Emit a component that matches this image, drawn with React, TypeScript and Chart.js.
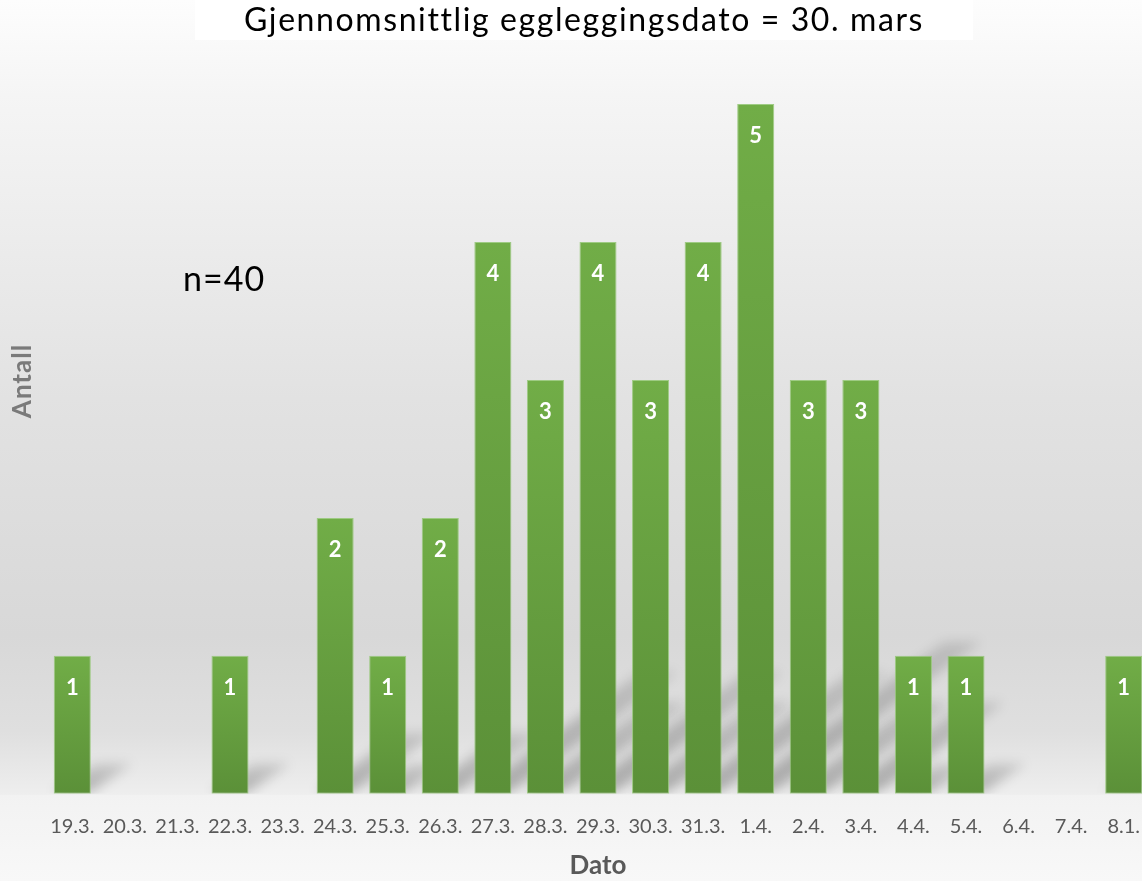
import React, { useEffect, useRef } from "react";
import { Chart, registerables } from "chart.js";

Chart.register(...registerables);

const TITLE = "Gjennomsnittlig eggleggingsdato = 30. mars";
const X_TITLE = "Dato";
const Y_TITLE = "Antall";
const NOTE = "n=40";

const dates = [
  "19.3.", "20.3.", "21.3.", "22.3.", "23.3.", "24.3.", "25.3.", "26.3.", "27.3.", "28.3.",
  "29.3.", "30.3.", "31.3.", "1.4.", "2.4.", "3.4.", "4.4.", "5.4.", "6.4.", "7.4.", "8.1.",
];
const counts: (number | null)[] = [
  1, null, null, 1, null, 2, 1, 2, 4, 3,
  4, 3, 4, 5, 3, 3, 1, 1, null, null, 1,
];
const yMin = 0;
const yMax = 5;

const FONT = "Lato, 'Open Sans', sans-serif";

const backgroundPlugin = {
  id: "bgPlugin",
  beforeDraw(chart: any) {
    const { ctx, width, height, chartArea } = chart;
    ctx.save();
    const gb = ctx.createLinearGradient(0, chartArea.bottom, 0, height);
    gb.addColorStop(0, "#f2f2f2");
    gb.addColorStop(1, "#f8f8f8");
    ctx.fillStyle = gb;
    ctx.fillRect(0, 0, width, height);
    const bottom = chartArea.bottom + 1;
    const g = ctx.createLinearGradient(0, 0, 0, bottom);
    g.addColorStop(0, "#fdfdfd");
    g.addColorStop(0.12, "#f5f5f5");
    g.addColorStop(0.5, "#e2e2e2");
    g.addColorStop(0.8, "#d8d8d8");
    g.addColorStop(0.92, "#dfdfdf");
    g.addColorStop(1, "#eeeeee");
    ctx.fillStyle = g;
    ctx.fillRect(0, 0, width, bottom);
    ctx.fillStyle = "#ffffff";
    ctx.fillRect(195, 0, 778, 40);
    ctx.fillStyle = "#000000";
    ctx.font = `32px ${FONT}`;
    ctx.textAlign = "center";
    ctx.textBaseline = "alphabetic";
    try { (ctx as any).letterSpacing = "1.6px"; } catch (e) {}
    ctx.fillText(TITLE, 584, 31);
    try { (ctx as any).letterSpacing = "0px"; } catch (e) {}
    ctx.restore();
  },
};

const shadowPlugin = {
  id: "shadowPlugin",
  beforeDatasetsDraw(chart: any) {
    const { ctx, chartArea } = chart;
    const meta = chart.getDatasetMeta(0);
    ctx.save();
    ctx.beginPath();
    ctx.rect(chartArea.left - 20, chartArea.top, chartArea.right - chartArea.left + 40, chartArea.bottom - chartArea.top);
    ctx.clip();
    ctx.filter = "blur(6px)";
    meta.data.forEach((bar: any, i: number) => {
      if (counts[i] == null) return;
      const { x, y, base, width } = bar.getProps(["x", "y", "base", "width"], true);
      if (![x, y, base, width].every((n) => Number.isFinite(n))) return;
      const h = base - y;
      const x0 = x - width / 2;
      const x1 = x + width / 2;
      const dy = h * 0.22;
      const dx = h * 0.3;
      const g = ctx.createLinearGradient(0, base, 0, base - dy);
      g.addColorStop(0, "rgba(0,0,0,0.28)");
      g.addColorStop(1, "rgba(0,0,0,0.12)");
      ctx.fillStyle = g;
      ctx.beginPath();
      ctx.moveTo(x0, base - 2);
      ctx.lineTo(x1, base - 2);
      ctx.lineTo(x1 + dx, base - dy);
      ctx.lineTo(x0 + dx, base - dy);
      ctx.closePath();
      ctx.fill();
    });
    ctx.restore();
  },
};

const labelPlugin = {
  id: "labelPlugin",
  afterDatasetsDraw(chart: any) {
    const { ctx, chartArea } = chart;
    const meta = chart.getDatasetMeta(0);
    ctx.save();
    ctx.fillStyle = "#ffffff";
    ctx.font = `bold 22px ${FONT}`;
    ctx.textAlign = "center";
    ctx.textBaseline = "middle";
    meta.data.forEach((bar: any, i: number) => {
      const v = counts[i];
      if (v == null) return;
      ctx.fillText(String(v), bar.x, bar.y + 32);
    });
    ctx.fillStyle = "#000000";
    ctx.font = `34px ${FONT}`;
    ctx.textAlign = "left";
    try { (ctx as any).letterSpacing = "1px"; } catch (e) {}
    ctx.fillText(NOTE, chartArea.left + 137, 280);
    ctx.translate(23, 381);
    ctx.rotate(-Math.PI / 2);
    ctx.textAlign = "center";
    ctx.fillStyle = "#7a7a7a";
    ctx.font = `bold 26px ${FONT}`;
    try { (ctx as any).letterSpacing = "1px"; } catch (e) {}
    ctx.fillText(Y_TITLE, 0, 0);
    ctx.restore();
  },
};

export default function App() {
  const ref = useRef<HTMLCanvasElement | null>(null);

  useEffect(() => {
    if (!ref.current) return;
    const chart = new Chart(ref.current, {
      type: "bar",
      data: {
        labels: dates,
        datasets: [
          {
            data: counts,
            backgroundColor: (c: any) => {
              const chartObj = c.chart;
              const v = c.raw;
              const ys = chartObj.scales?.y;
              if (!ys || v == null) return "#66a03f";
              const top = ys.getPixelForValue(v);
              const bot = ys.getPixelForValue(0);
              if (!Number.isFinite(top) || !Number.isFinite(bot) || top === bot) return "#66a03f";
              const g = chartObj.ctx.createLinearGradient(0, top, 0, bot);
              g.addColorStop(0, "#71ad47");
              g.addColorStop(1, "#5b9038");
              return g;
            },
            borderColor: "rgba(150,200,120,0.9)",
            borderWidth: 1,
            borderSkipped: false,
            barPercentage: 0.705,
            categoryPercentage: 1,
          },
        ],
      },
      options: {
        animation: false,
        responsive: true,
        maintainAspectRatio: false,
        layout: { padding: { left: 46, right: 0, top: 104, bottom: 0 } },
        plugins: {
          legend: { display: false },
          tooltip: { enabled: false },
          title: { display: false },
        },
        scales: {
          x: {
            offset: true,
            grid: { display: false, drawTicks: true, tickLength: 18 },
            border: { display: false },
            ticks: {
              autoSkip: false,
              maxRotation: 0,
              minRotation: 0,
              color: "#595959",
              padding: 3,
              font: { family: FONT, size: 20, lineHeight: 1.2 },
            },
            title: {
              display: true,
              text: X_TITLE,
              color: "#595959",
              font: { family: FONT, size: 26, weight: "bold", lineHeight: 1.2 },
              padding: { top: 8, bottom: 0 },
            },
          },
          y: {
            display: false,
            min: yMin,
            max: yMax,
          },
        },
      },
      plugins: [backgroundPlugin, shadowPlugin, labelPlugin],
    });
    return () => chart.destroy();
  }, []);

  return (
    <div style={{ position: "fixed", left: 0, top: 0, width: 1142, height: 881, overflow: "hidden" }}>
      <div style={{ position: "absolute", left: 0, top: 0, width: 1150, height: 881 }}>
        <canvas ref={ref} />
      </div>
    </div>
  );
}
